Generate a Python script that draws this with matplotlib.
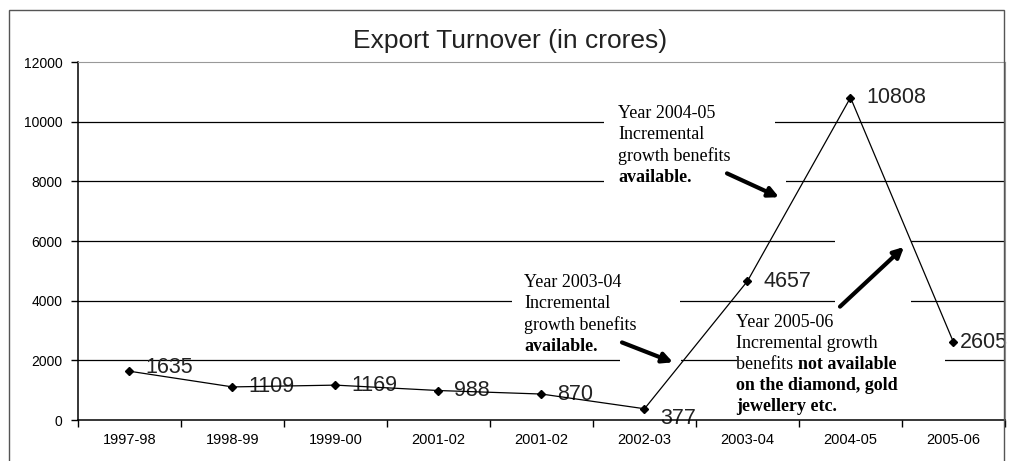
import matplotlib
matplotlib.use('Agg')
import matplotlib.pyplot as plt
from matplotlib.patches import Rectangle
from matplotlib.offsetbox import TextArea, HPacker, VPacker, AnnotationBbox
import numpy as np

matplotlib.rc('font', family='Liberation Sans')

years = ['1997-98', '1998-99', '1999-00', '2001-02', '2001-02',
         '2002-03', '2003-04', '2004-05', '2005-06']
turnover = [1635, 1109, 1169, 988, 870, 377, 4657, 10808, 2605]
yticks = [0, 2000, 4000, 6000, 8000, 10000, 12000]

fig = plt.figure(figsize=(10.12, 4.61), dpi=100)
ax = fig.add_axes([78/1012, 1 - 420/461, 927/1012, 358/461])

x = np.arange(len(years))
ax.plot(x, turnover, color='black', lw=0.9, marker='D', ms=4, zorder=3)

# value labels
offsets = {0: (16, 4), 5: (16, -10), 8: (6, 0)}
for i, v in enumerate(turnover):
    dx, dy = offsets.get(i, (16, 0))
    ax.annotate(str(v), (x[i], v), xytext=(dx, dy), textcoords='offset pixels',
                ha='left', va='center', fontsize=15.5, color='#222222', zorder=2)

ax.set_xlim(-0.5, len(years) - 0.5)
ax.set_ylim(0, 12000)
ax.set_yticks(yticks)
ax.set_yticklabels([str(t) for t in yticks], fontsize=10)
ax.set_xticks(x)
ax.set_xticklabels(years, fontsize=10.5)
ax.set_xticks(np.arange(len(years) + 1) - 0.5, minor=True)
ax.tick_params(axis='x', which='major', length=0, pad=9)
ax.tick_params(axis='x', which='minor', length=5, width=1)
ax.tick_params(axis='y', length=5, width=1, pad=6)

for t in yticks[1:-1]:
    ax.axhline(t, color='black', lw=0.9, zorder=0)
for side in ['top', 'right']:
    ax.spines[side].set_color('#999999')
    ax.spines[side].set_linewidth(0.8)
for side in ['left', 'bottom']:
    ax.spines[side].set_linewidth(1.1)

fig.text(510/1012, 1 - 41/461, 'Export Turnover (in crores)', ha='center',
         va='center', fontsize=19, color='#222222')

# outer frame of the chart object
fig.add_artist(Rectangle((9/1012, -0.1), 995/1012, 1.1 - 10/461, transform=fig.transFigure,
                         fill=False, edgecolor='#555555', lw=1.0))


def px(xp, yp):
    # pixel position in the picture -> data coordinates
    return ((xp - 78) / 103 - 0.5, (420 - yp) / 60 * 2000)


serif = 'Liberation Serif'


def note(lines, xy):
    rows = []
    for parts in lines:
        items = [TextArea(s, textprops=dict(family=serif, fontsize=13,
                                            fontweight='bold' if b else 'normal'))
                 for s, b in parts]
        rows.append(HPacker(children=items, pad=0, sep=0))
    box = VPacker(children=rows, pad=0, sep=3, align='left')
    ab = AnnotationBbox(box, xy, xycoords='data', box_alignment=(0, 1),
                        frameon=False, zorder=4)
    ax.add_artist(ab)


# white areas hiding the grid behind the notes and arrows
for x0, y0, x1, y1 in [(604, 100, 775, 186), (606, 175, 786, 190),
                       (512, 272, 680, 352), (620, 340, 681, 366),
                       (737, 313, 945, 415), (835, 235, 911, 312)]:
    a = px(x0, y1)
    b = px(x1, y0)
    ax.add_patch(Rectangle(a, b[0] - a[0], b[1] - a[1], facecolor='white',
                           edgecolor='none', zorder=1))

note([[('Year 2004-05', False)], [('Incremental', False)],
      [('growth benefits', False)], [('available.', True)]], px(618, 103))
note([[('Year 2003-04', False)], [('Incremental', False)],
      [('growth benefits', False)], [('available.', True)]], px(524, 273))
note([[('Year 2005-06', False)], [('Incremental growth', False)],
      [('benefits ', False), ('not available', True)],
      [('on the diamond, gold', True)], [('jewellery etc.', True)]], px(736, 313))

for start, end in [((727, 172), (779, 196)), ((622, 342), (673, 362)),
                   ((840, 306), (904, 246))]:
    ax.annotate('', xy=px(*end), xytext=px(*start), zorder=5,
                arrowprops=dict(arrowstyle='-|>,head_length=0.6,head_width=0.3',
                                color='black', lw=3, shrinkA=0, shrinkB=0))

plt.savefig('out.png', dpi=100)
